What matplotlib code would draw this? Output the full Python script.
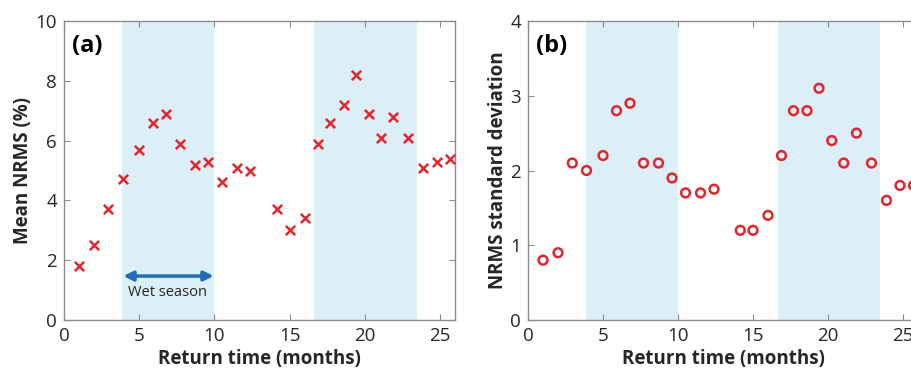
import matplotlib
matplotlib.use('Agg')
import matplotlib.pyplot as plt

# return time (months) and values
months = [1.0, 2.0, 2.95, 3.9, 5.0, 5.9, 6.8, 7.7, 8.7, 9.6, 10.5, 11.5, 12.4,
          14.15, 15.0, 16.0, 16.9, 17.7, 18.6, 19.4, 20.25, 21.05, 21.9, 22.9,
          23.9, 24.8, 25.7]
mean_nrms = [1.8, 2.5, 3.7, 4.7, 5.7, 6.6, 6.9, 5.9, 5.2, 5.3, 4.6, 5.1, 5.0,
             3.7, 3.0, 3.4, 5.9, 6.6, 7.2, 8.2, 6.9, 6.1, 6.8, 6.1, 5.1, 5.3, 5.4]
std_nrms = [0.8, 0.9, 2.1, 2.0, 2.2, 2.8, 2.9, 2.1, 2.1, 1.9, 1.7, 1.7, 1.75,
            1.2, 1.2, 1.4, 2.2, 2.8, 2.8, 3.1, 2.4, 2.1, 2.5, 2.1, 1.6, 1.8, 1.8]
wet_seasons = [(3.88, 10.0), (16.65, 23.45)]

plt.rcParams['font.family'] = ['Open Sans', 'DejaVu Sans']
red = '#e3262b'
shade = '#dcEEF6'
grey = '#8c8c8c'

fig = plt.figure(figsize=(9.11, 3.71), dpi=100)
W, H = 911, 371
ax1 = fig.add_axes([64 / W, 1 - 320 / H, 391 / W, 299 / H])
ax2 = fig.add_axes([528 / W, 1 - 320 / H, 390 / W, 299 / H])


def style(ax, ylim, yticks, ylabel, tag):
    for a, b in wet_seasons:
        ax.axvspan(a, b, color=shade, lw=0, zorder=0)
    ax.set_xlim(0, 26)
    ax.set_ylim(*ylim)
    ax.set_xticks([0, 5, 10, 15, 20, 25])
    ax.set_yticks(yticks)
    ax.tick_params(direction='in', top=True, right=True, length=4, width=0.8,
                   color=grey, labelsize=13.5, labelcolor='#262626', pad=5)
    for s in ax.spines.values():
        s.set_color(grey)
        s.set_linewidth(1.0)
    ax.set_xlabel('Return time (months)', fontsize=13.5, fontweight='bold',
                  color='#262626', labelpad=3)
    ax.set_ylabel(ylabel, fontsize=13.5, fontweight='bold', color='#262626',
                  labelpad=2)
    ax.text(0.02, 0.955, tag, transform=ax.transAxes, fontsize=17,
            fontweight='bold', va='top', ha='left')


style(ax1, (0, 10), [0, 2, 4, 6, 8, 10], 'Mean NRMS (%)', '(a)')
ax1.scatter(months, mean_nrms, marker='x', s=45, c=red, linewidths=1.8,
            zorder=3, clip_on=False)
ax1.annotate('', xy=(3.95, 1.47), xytext=(9.95, 1.47),
             arrowprops=dict(arrowstyle='<|-|>', color='#1f6db5', lw=2.5,
                             mutation_scale=14, shrinkA=0, shrinkB=0))
ax1.text(6.85, 0.92, 'Wet season', ha='center', va='center', fontsize=10.5,
         color='#262626')

style(ax2, (0, 4), [0, 1, 2, 3, 4], 'NRMS standard deviation', '(b)')
ax2.scatter(months, std_nrms, marker='o', s=40, facecolors='none',
            edgecolors=red, linewidths=1.8, zorder=3)

fig.savefig('out.png', dpi=100)
